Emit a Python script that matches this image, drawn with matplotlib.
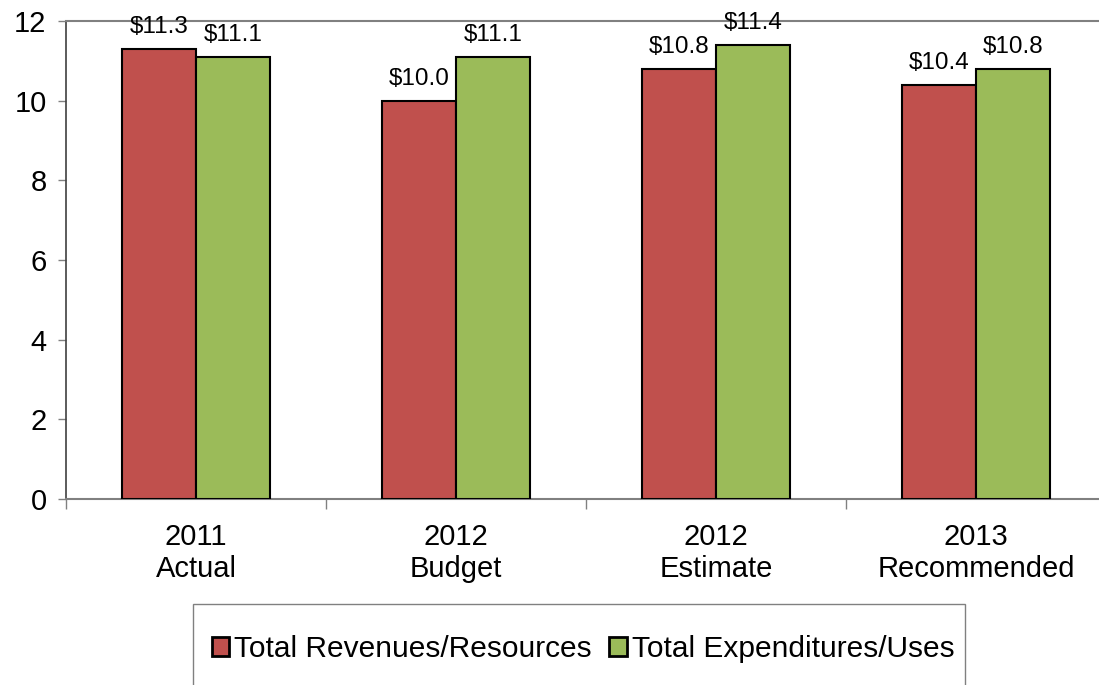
import numpy as np
from matplotlib import pyplot as plt
from matplotlib.patches import Rectangle

categories = ['2011\nActual', '2012\nBudget', '2012\nEstimate', '2013\nRecommended']
revenues = [11.3, 10.0, 10.8, 10.4]
expenditures = [11.1, 11.1, 11.4, 10.8]
series_names = ['Total Revenues/Resources', 'Total Expenditures/Uses']
yticks = [0, 2, 4, 6, 8, 10, 12]

RED = '#C0504D'
GREEN = '#9BBB59'


def main():
    plt.rcParams['font.family'] = ['Liberation Sans', 'DejaVu Sans']
    fig = plt.figure(figsize=(10.99, 6.85), dpi=100)
    ax = fig.add_axes([66 / 1099, 186 / 685, 1040 / 1099, 478 / 685])

    x = np.arange(len(categories))
    w = 0.285
    b1 = ax.bar(x - w / 2, revenues, w, color=RED, edgecolor='black',
                linewidth=1.5, label=series_names[0], zorder=3)
    b2 = ax.bar(x + w / 2, expenditures, w, color=GREEN, edgecolor='black',
                linewidth=1.5, label=series_names[1], zorder=3)

    for bars, vals in ((b1, revenues), (b2, expenditures)):
        for rect, v in zip(bars, vals):
            ax.annotate('$%.1f' % v, (rect.get_x() + rect.get_width() / 2, v),
                        xytext=(0, 8), textcoords='offset points',
                        ha='center', va='bottom', fontsize=17.5,
                        annotation_clip=False)

    ax.set_xlim(-0.5, len(categories) - 0.5)
    ax.set_ylim(0, 12)
    ax.set_yticks(yticks)
    ax.tick_params(axis='y', labelsize=21, length=6, width=1, color='#808080',
                   pad=8)

    # category labels centred, ticks on category boundaries
    ax.set_xticks(x)
    ax.set_xticklabels(categories, fontsize=21, linespacing=1.2)
    ax.tick_params(axis='x', length=0, pad=17)
    ax.set_xticks(np.arange(len(categories) + 1) - 0.5, minor=True)
    ax.tick_params(axis='x', which='minor', length=7, width=1,
                   color='#808080')

    for side in ('top', 'bottom'):
        ax.spines[side].set_color('#808080')
        ax.spines[side].set_linewidth(1.5)
    ax.spines['left'].set_color('#404040')
    ax.spines['left'].set_linewidth(1.2)
    ax.spines['right'].set_visible(False)

    # legend box running off the bottom edge
    fig.patches.append(Rectangle((193 / 1099, -0.05), 772 / 1099, 81 / 685 + 0.05,
                                 transform=fig.transFigure, fill=False,
                                 edgecolor='#808080', linewidth=1))
    leg = fig.legend(handles=[b1, b2], loc='center',
                     bbox_to_anchor=(583 / 1099, 36 / 685), ncol=2,
                     frameon=False, fontsize=21.5, handlelength=0.6,
                     handleheight=0.6, handletextpad=0.15, columnspacing=0.6)
    for h in leg.legend_handles:
        h.set_linewidth(2)

    fig.savefig('out.png', dpi=100)


if __name__ == '__main__':
    main()
